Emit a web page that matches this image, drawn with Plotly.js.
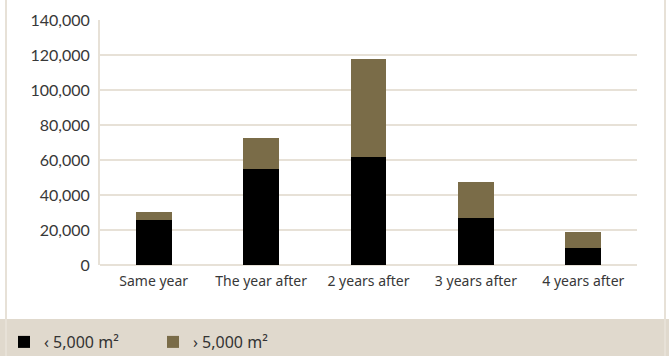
<!DOCTYPE html>
<html>
<head>
<meta charset="utf-8">
<script src="https://cdn.plot.ly/plotly-3.0.1.min.js"></script>
<style>
  html, body { margin: 0; padding: 0; background: #ffffff; }
  #chart { width: 669px; height: 356px; }
</style>
</head>
<body>
<div id="chart"></div>
<script>
const categories = ["Same year", "The year after", "2 years after", "3 years after", "4 years after"];
const smallValues = [26000, 55000, 62000, 27000, 10000];
const largeValues = [4500, 17500, 55500, 20500, 9000];
const seriesNames = ["\u2039 5,000 m\u00B2", "\u203A 5,000 m\u00B2"];
const yTicks = [0, 20000, 40000, 60000, 80000, 100000, 120000, 140000];

const beige = "#e7e1d7";
const strip = "#e0d9cd";

const traces = [
  { type: "bar", x: categories, y: smallValues, name: seriesNames[0],
    marker: { color: "#000000", line: { width: 0 } }, hoverinfo: "skip" },
  { type: "bar", x: categories, y: largeValues, name: seriesNames[1],
    marker: { color: "#7a6c48", line: { width: 0 } }, hoverinfo: "skip" }
];

const plotH = 245, plotW = 537;
const py = px => (265 - px) / plotH;
const pxx = px => (px - 100) / plotW;

const layout = {
  width: 669, height: 356,
  margin: { l: 100, r: 32, t: 20, b: 91, pad: 0, autoexpand: false },
  paper_bgcolor: "#ffffff", plot_bgcolor: "#ffffff",
  barmode: "stack",
  bargap: 0.665,
  font: { family: "Open Sans, sans-serif", size: 14, color: "#333333" },
  xaxis: {
    type: "category", automargin: false,
    showgrid: false, zeroline: false, showline: false,
    ticks: "", ticklabelstandoff: 6,
    tickfont: { family: "Noto Sans, sans-serif", size: 14, color: "#383838" }
  },
  yaxis: {
    range: [0, 140000], tickvals: yTicks, tickformat: ",d", automargin: false,
    showgrid: true, gridcolor: beige, gridwidth: 2,
    zeroline: true, zerolinecolor: beige, zerolinewidth: 2,
    showline: true, linecolor: beige, linewidth: 2,
    ticks: "", ticklabelstandoff: 5,
    tickfont: { family: "Lato, sans-serif", size: 16, color: "#383838" }
  },
  showlegend: true,
  legend: {
    orientation: "h", x: pxx(4), xanchor: "left", y: py(342), yanchor: "middle",
    bgcolor: "rgba(0,0,0,0)", traceorder: "normal",
    entrywidth: 104, entrywidthmode: "pixels",
    font: { family: "Noto Sans, sans-serif", size: 16, color: "#333333" }
  },
  shapes: [
    { type: "rect", xref: "paper", yref: "paper", layer: "below",
      x0: pxx(0), x1: pxx(669), y0: py(319), y1: py(357),
      fillcolor: strip, line: { width: 0 } },
    { type: "line", xref: "paper", yref: "paper", layer: "below",
      x0: pxx(6), x1: pxx(6), y0: py(0), y1: py(357),
      line: { color: beige, width: 2 } },
    { type: "line", xref: "paper", yref: "paper", layer: "below",
      x0: pxx(665), x1: pxx(665), y0: py(0), y1: py(357),
      line: { color: beige, width: 2 } }
  ]
};

Plotly.newPlot("chart", traces, layout, { displayModeBar: false, staticPlot: true });
</script>
</body>
</html>
